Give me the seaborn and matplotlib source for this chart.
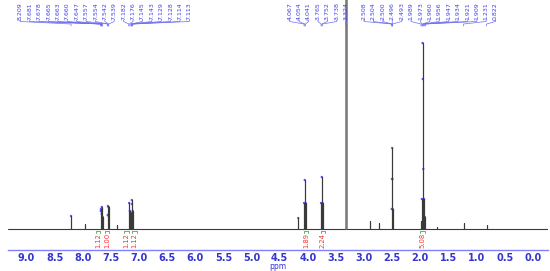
import matplotlib.pyplot as plt
import seaborn as sns
import numpy as np
import pandas as pd

sns.set_style("white")
plt.rcParams['font.family'] = ['DejaVu Sans']

# stick spectrum (ppm, height above baseline in px)
peak_ppm = [8.209, 7.970, 7.681, 7.678, 7.665, 7.663, 7.660, 7.647,
            7.557, 7.554, 7.542, 7.539, 7.390, 7.176, 7.164, 7.145, 7.143,
            7.129, 7.128, 7.114, 7.113, 4.170, 4.067, 4.054, 4.041,
            3.765, 3.752, 3.738, 3.324, 2.890, 2.740, 2.508, 2.504, 2.500,
            2.496, 2.493, 1.989, 1.973, 1.960, 1.956, 1.947, 1.934, 1.921,
            1.909, 1.700, 1.231, 0.822]
peak_height = [13, 5, 18, 20, 15, 22, 20, 12,
               14, 23, 22, 13, 4, 26, 18, 14, 16,
               29, 25, 18, 15, 11, 26, 49, 26,
               26, 52, 26, 260, 8, 6, 20, 50, 81,
               50, 20, 8, 30, 186, 150, 60, 30, 12,
               6, 2, 6, 4]

# peak labels, grouped as in the picture
label_groups = [
    ['8.209', '7.681', '7.678', '7.665', '7.663', '7.660', '7.647', '7.557',
     '7.554', '7.542', '7.539', '7.182', '7.176', '7.145', '7.143', '7.129',
     '7.128', '7.114', '7.113'],
    ['4.067', '4.054', '4.041', '3.765', '3.752', '3.738', '3.324'],
    ['2.508', '2.504', '2.500', '2.496', '2.493', '1.989', '1.973', '1.960',
     '1.956', '1.947', '1.934', '1.921', '1.909', '1.231', '0.822'],
]

# integrals
integral_ppm = [7.73, 7.57, 7.22, 7.08, 4.03, 3.73, 1.96]
integral_val = ['1.12', '1.00', '1.12', '1.12', '1.89', '2.24', '5.08']

x_left, x_right = 9.33, -0.27
px_per_ppm = 56.26
group_shift_px = [-9, 0, 10]

# build the stick path
xs, ys = [x_left], [0]
for p, h in zip(peak_ppm, peak_height):
    xs += [p, p, p]
    ys += [0, h, 0]
xs.append(x_right)
ys.append(0)
spec = pd.DataFrame({'ppm': xs, 'intensity': ys})

fig = plt.figure(figsize=(5.5, 2.71), dpi=100)
ax = fig.add_axes([8 / 550, 21 / 271, 540 / 550, 250 / 271])

sns.lineplot(data=spec, x='ppm', y='intensity', sort=False, estimator=None,
             color='#3a3a3a', lw=0.8, ax=ax)
ax.vlines(3.324, 0, 260, color='#7a7a7a', lw=1.8)

tops = pd.DataFrame({'ppm': peak_ppm, 'h': peak_height})
tops = tops[(tops.h > 10) & (tops.h < 229)]
sns.scatterplot(data=tops, x='ppm', y='h', color='#5555ff', s=3,
                edgecolor='none', ax=ax, legend=False)

ax.set_xlim(x_left, x_right)
ax.set_ylim(-21, 229)

# peak labels spread along the top
blue_lbl = '#4040e8'
spacing = 9.4 / px_per_ppm
for grp, shift in zip(label_groups, group_shift_px):
    vals = [float(v) for v in grp]
    center = np.mean(vals) - shift / px_per_ppm
    n = len(vals)
    pos = [center + ((n - 1) / 2 - i) * spacing for i in range(n)]
    for lx, v, txt in zip(pos, vals, grp):
        ax.text(lx, 209.5, txt, rotation=90, ha='center', va='bottom',
                fontsize=4.5, color=blue_lbl)
        ax.plot([lx, lx, v, v], [209, 207.5, 205, 203],
                color='#7070f0', lw=0.5)

# integrals
for p, v in zip(integral_ppm, integral_val):
    ax.plot([p + 0.04, p + 0.04, p - 0.04, p - 0.04], [-3.5, -2, -2, -3.5],
            color='#40b040', lw=0.6)
    ax.text(p, -4.0, v, rotation=90, ha='center', va='top', fontsize=4.9,
            color='#ff3030')

# axis styling
for s in ['top', 'left', 'right']:
    ax.spines[s].set_visible(False)
ax.spines['bottom'].set_color('#8080ff')
ax.spines['bottom'].set_linewidth(1.0)
ax.set_yticks([])
ax.set_xticks(np.arange(0, 9.01, 0.5))
ax.set_xticks(np.arange(-0.2, 9.31, 0.1), minor=True)
ax.set_xticklabels([f'{t:.1f}' for t in np.arange(0, 9.01, 0.5)],
                   color='#3535d0', fontsize=7, fontweight='bold')
ax.tick_params(axis='x', which='major', direction='inout', length=3,
               color='#8080ff', pad=0.5)
ax.tick_params(axis='x', which='minor', direction='in', length=1.5,
               color='#8080ff')
ax.set_xlabel('ppm', color='#3535d0', fontsize=5.5, labelpad=-0.5)
ax.set_ylabel('')

fig.savefig('out.png', dpi=100)
